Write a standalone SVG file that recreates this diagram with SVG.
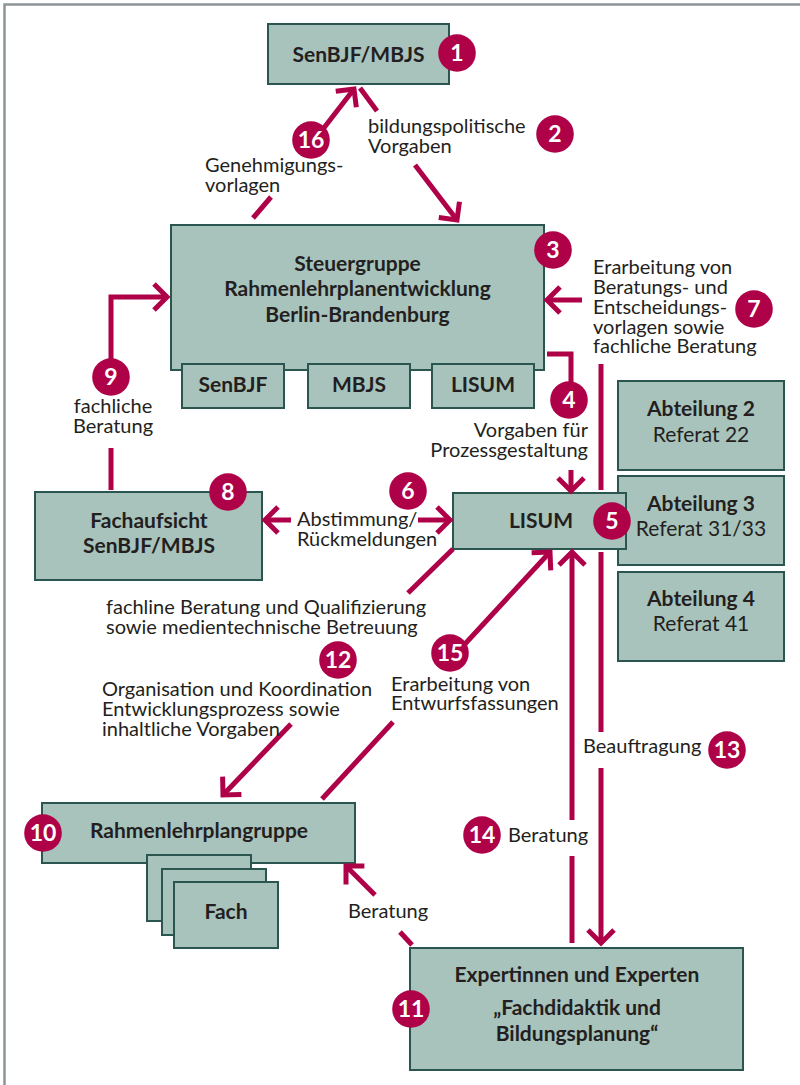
<svg xmlns="http://www.w3.org/2000/svg" width="800" height="1085" viewBox="0 0 800 1085">
<defs>
<style>
.box{fill:#a8c2bc;stroke:#2b5650;stroke-width:2}
.t{font-family:Lato,"Noto Sans",sans-serif;fill:#231f20;font-size:20px}
.b{font-family:Lato,"Noto Sans",sans-serif;fill:#231f20;font-size:21px;font-weight:bold;text-anchor:middle}
.r{font-family:Lato,"Noto Sans",sans-serif;fill:#231f20;font-size:21px;text-anchor:middle}
.c{fill:none;stroke:#ae0148;stroke-width:5}
.a{marker-end:url(#ah)}
.n circle{fill:#ae0148}
.n text{font-family:Lato,"Noto Sans",sans-serif;fill:#fff;font-size:23px;font-weight:bold;text-anchor:middle}
</style>
<marker id="ah" markerUnits="userSpaceOnUse" markerWidth="40" markerHeight="40" viewBox="-20 -20 40 40" refX="0" refY="0" orient="auto" overflow="visible">
<path d="M-13,-13 L0,0 L-13,13" fill="none" stroke="#ae0148" stroke-width="5" stroke-linejoin="miter"/>
</marker>
</defs>
<rect width="800" height="1085" fill="#fff"/>
<path d="M4.5,1085 V4.5 H800" fill="none" stroke="#8d9497" stroke-width="2.5"/>

<g id="n-senbjf-mbjs"><rect class="box" x="268" y="24" width="181" height="60"/><text class="b" x="358.5" y="62">SenBJF/MBJS</text></g>
<g id="n-steuergruppe"><rect class="box" x="171" y="225" width="373" height="145"/>
<text class="b" x="357.5" y="271">Steuergruppe</text><text class="b" x="357.5" y="296">Rahmenlehrplanentwicklung</text><text class="b" x="357.5" y="322">Berlin-Brandenburg</text></g>
<g id="n-sg-senbjf"><rect class="box" x="182" y="364" width="102" height="44"/><text class="b" x="233" y="392">SenBJF</text></g>
<g id="n-sg-mbjs"><rect class="box" x="308" y="364" width="102" height="44"/><text class="b" x="359" y="392">MBJS</text></g>
<g id="n-sg-lisum"><rect class="box" x="432" y="364" width="102" height="44"/><text class="b" x="483" y="392">LISUM</text></g>
<g id="n-abt2"><rect class="box" x="618" y="381" width="166" height="89"/><text class="b" x="701" y="416">Abteilung 2</text><text class="r" x="701" y="442">Referat 22</text></g>
<g id="n-abt3"><rect class="box" x="618" y="476" width="166" height="89"/><text class="b" x="701" y="511">Abteilung 3</text><text class="r" x="701" y="536">Referat 31/33</text></g>
<g id="n-abt4"><rect class="box" x="618" y="572" width="166" height="89"/><text class="b" x="701" y="606">Abteilung 4</text><text class="r" x="701" y="631">Referat 41</text></g>
<g id="n-lisum"><rect class="box" x="453" y="493" width="173" height="56"/><text class="b" x="541" y="528">LISUM</text></g>
<g id="n-fachaufsicht"><rect class="box" x="35" y="492" width="227" height="88"/><text class="b" x="149" y="528">Fachaufsicht</text><text class="b" x="149" y="553">SenBJF/MBJS</text></g>
<g id="n-rahmenlehrplangruppe"><rect class="box" x="42" y="803" width="313" height="60"/><text class="b" x="199" y="838">Rahmenlehrplangruppe</text></g>
<g id="n-fach"><rect class="box" x="147" y="855" width="104" height="66"/><rect class="box" x="162" y="869" width="104" height="66"/><rect class="box" x="174" y="882" width="104" height="66"/><text class="b" x="226" y="919">Fach</text></g>
<g id="n-experten"><rect class="box" x="410" y="948" width="333" height="122"/><text class="b" x="577" y="982">Expertinnen und Experten</text><text class="b" x="577" y="1015">„Fachdidaktik und</text><text class="b" x="577" y="1041">Bildungsplanung“</text></g>

<g id="connectors">
<path class="c a" d="M253,218 L271,197 M306,151 L354,89"/>
<path class="c" d="M360,88 L377,111"/>
<path class="c a" d="M415,165 L457,220"/>
<path class="c a" d="M582,300 L547,300"/>
<path class="c" d="M601,490 V364"/>
<path class="c" d="M547,354 H571 V400"/>
<path class="c a" d="M571,470 V491"/>
<path class="c a" d="M291,520 H265"/>
<path class="c a" d="M418,520 H450"/>
<path class="c" d="M111,490 V448"/>
<path class="c a" d="M111,377 V297 H167"/>
<path class="c" d="M453,549 L408,593"/>
<path class="c a" d="M291,724 L223,795"/>
<path class="c" d="M322,799 L393,722"/>
<path class="c a" d="M452,658 L550,552"/>
<path class="c" d="M572,943 V856"/>
<path class="c a" d="M572,820 V552"/>
<path class="c" d="M601,552 V732"/>
<path class="c a" d="M601,768 V943"/>
<path class="c" d="M412,945 L400,932"/>
<path class="c a" d="M375,895 L346,866"/>
</g>

<g id="labels">
<text class="t" x="205" y="172">Genehmigungs-</text><text class="t" x="205" y="192">vorlagen</text>
<text class="t" x="368" y="133">bildungspolitische</text><text class="t" x="368" y="153">Vorgaben</text>
<text class="t" x="593" y="274">Erarbeitung von</text><text class="t" x="593" y="294">Beratungs- und</text><text class="t" x="593" y="314">Entscheidungs-</text><text class="t" x="593" y="333.5">vorlagen sowie</text><text class="t" x="593" y="353">fachliche Beratung</text>
<text class="t" x="588" y="437" text-anchor="end">Vorgaben für</text><text class="t" x="588" y="457" text-anchor="end">Prozessgestaltung</text>
<text class="t" x="113" y="413" text-anchor="middle">fachliche</text><text class="t" x="113" y="433" text-anchor="middle">Beratung</text>
<text class="t" x="297" y="526">Abstimmung/</text><text class="t" x="297" y="545.5">Rückmeldungen</text>
<text class="t" x="106" y="614">fachline Beratung und Qualifizierung</text><text class="t" x="106" y="634">sowie medientechnische Betreuung</text>
<text class="t" x="102" y="696">Organisation und Koordination</text><text class="t" x="102" y="716">Entwicklungsprozess sowie</text><text class="t" x="102" y="736">inhaltliche Vorgaben</text>
<text class="t" x="391" y="691">Erarbeitung von</text><text class="t" x="391" y="710">Entwurfsfassungen</text>
<text class="t" x="583" y="753">Beauftragung</text>
<text class="t" x="508" y="842">Beratung</text>
<text class="t" x="348" y="918">Beratung</text>
</g>

<g id="numbers" class="n">
<g id="num1"><circle cx="457" cy="53" r="18.8"/><text x="457" y="61">1</text></g>
<g id="num2"><circle cx="555" cy="134" r="18.8"/><text x="555" y="142">2</text></g>
<g id="num3"><circle cx="553" cy="250" r="18.8"/><text x="553" y="258">3</text></g>
<g id="num4"><circle cx="569" cy="400" r="18.8"/><text x="569" y="408">4</text></g>
<g id="num5"><circle cx="612" cy="521" r="18.8"/><text x="612" y="529">5</text></g>
<g id="num6"><circle cx="408" cy="491" r="18.8"/><text x="408" y="499">6</text></g>
<g id="num7"><circle cx="754" cy="309" r="18.8"/><text x="754" y="317">7</text></g>
<g id="num8"><circle cx="228" cy="492" r="18.8"/><text x="228" y="500">8</text></g>
<g id="num9"><circle cx="111" cy="377" r="18.8"/><text x="111" y="385">9</text></g>
<g id="num10"><circle cx="43" cy="833" r="18.8"/><text x="43" y="841">10</text></g>
<g id="num11"><circle cx="411" cy="1009" r="18.8"/><text x="411" y="1017">11</text></g>
<g id="num12"><circle cx="338" cy="660" r="18.8"/><text x="338" y="668">12</text></g>
<g id="num13"><circle cx="727" cy="750" r="18.8"/><text x="727" y="758">13</text></g>
<g id="num14"><circle cx="482" cy="835" r="18.8"/><text x="482" y="843">14</text></g>
<g id="num15"><circle cx="450" cy="653" r="18.8"/><text x="450" y="661">15</text></g>
<g id="num16"><circle cx="311" cy="140" r="18.8"/><text x="311" y="148">16</text></g>
</g>
</svg>
